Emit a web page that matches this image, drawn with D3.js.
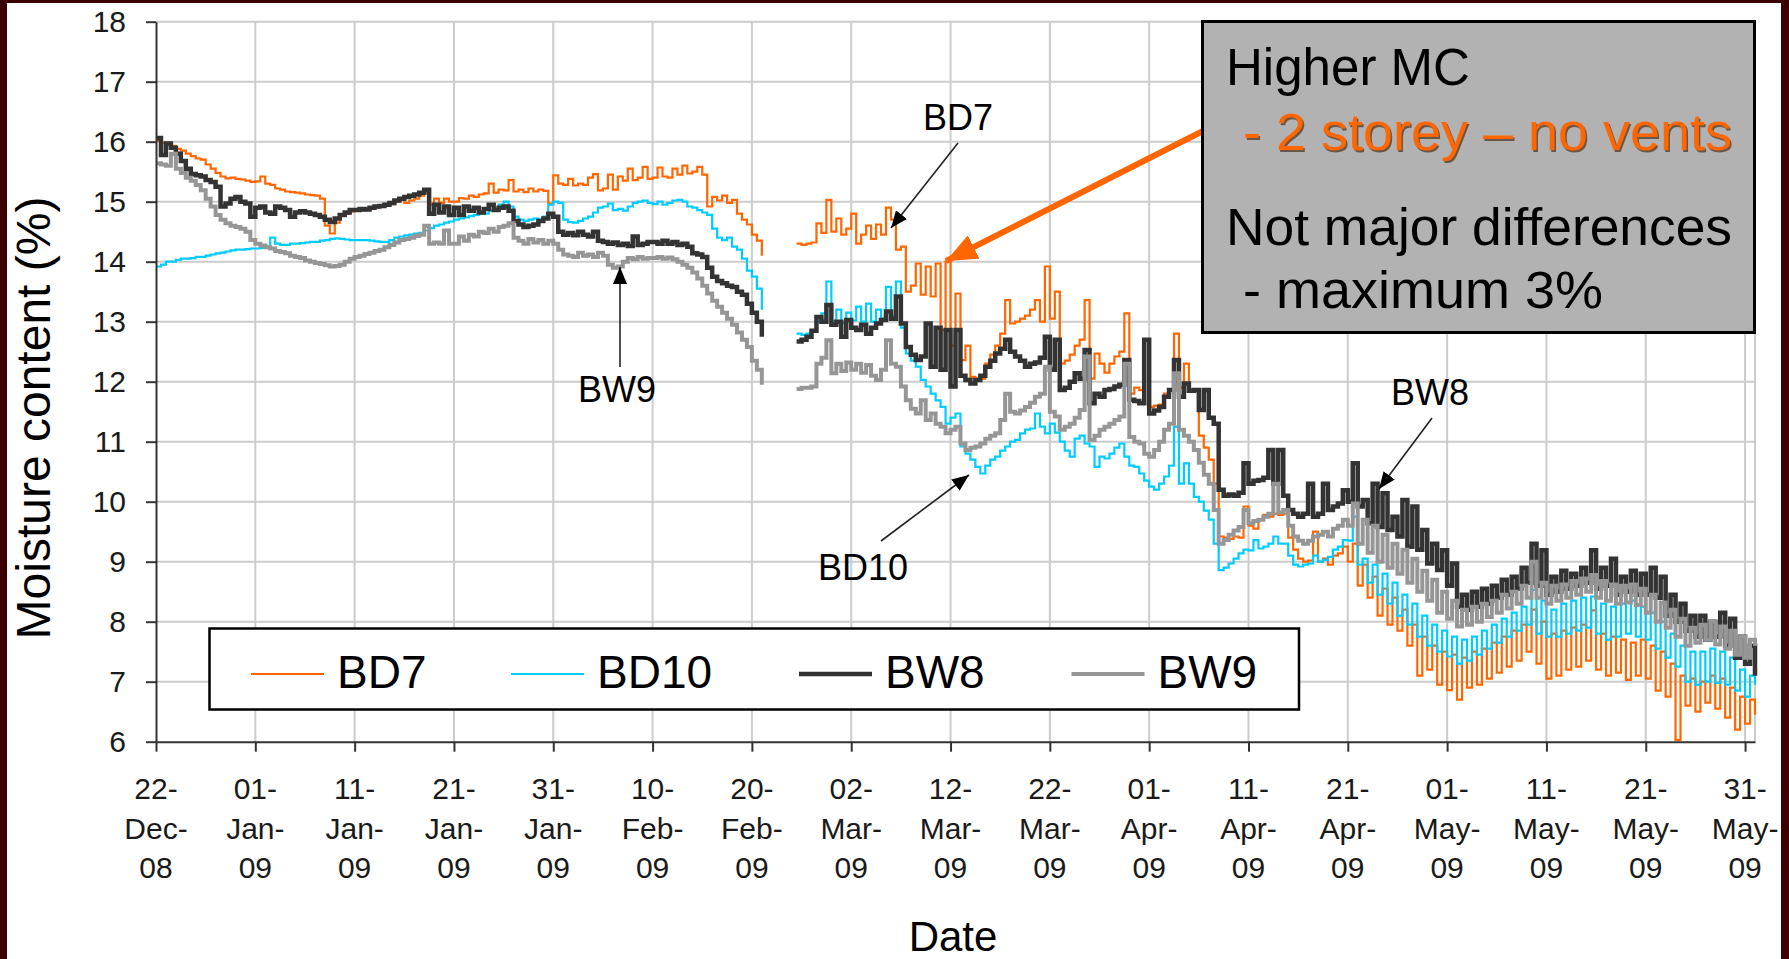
<!DOCTYPE html>
<html>
<head>
<meta charset="utf-8">
<script src="https://cdn.jsdelivr.net/npm/d3@7/dist/d3.min.js"></script>
<style>
body { margin: 0; background: #ffffff; }
svg text { font-family: "Liberation Sans", Arial, sans-serif; }
</style>
</head>
<body>
<script>
// sensors, in legend order
var seriesNames = ["BD7", "BD10", "BW8", "BW9"];
var seriesColors = ["#ff6600", "#00ccff", "#333333", "#969696"];

// moisture content (%) read every 12 hours from 22-Dec-08, null = no logging
var bd7 = [
  16.02,15.98,15.95,15.93,15.88,15.85,15.8,15.76,15.72,15.7,15.62,15.55,15.48,15.42,15.39,15.4,15.38,15.37,15.35,15.33,
  15.34,15.42,15.3,15.28,15.22,15.2,15.17,15.16,15.15,15.14,15.12,15.11,15.1,15.05,14.6,14.47,14.65,14.78,14.8,14.84,
  14.86,14.85,14.87,14.88,14.9,14.92,14.93,14.96,15.0,15.03,14.98,15.02,15.05,15.1,15.15,14.95,15.05,14.98,15.05,15.0,
  15.0,15.06,15.05,15.1,15.08,15.12,15.14,15.3,15.15,15.2,15.19,15.36,15.17,15.2,15.16,15.22,15.17,15.2,15.18,14.97,
  15.44,15.3,15.28,15.38,15.27,15.3,15.28,15.4,15.46,15.19,15.22,15.45,15.2,15.42,15.35,15.55,15.36,15.4,15.58,15.38,
  15.4,15.57,15.42,15.4,15.55,15.45,15.6,15.47,15.5,15.58,15.45,14.92,15.08,15.02,15.1,14.98,15.03,14.8,14.7,14.62,
  14.45,14.35,14.1,null,null,null,null,null,null,14.3,14.28,14.3,14.32,14.64,14.48,15.03,14.5,14.72,14.45,14.55,
  14.8,14.3,14.45,14.6,14.38,14.62,14.45,14.9,14.7,14.2,14.25,13.5,13.6,13.97,13.45,13.92,13.42,13.97,12.86,14.0,
  12.6,13.47,12.36,12.6,12.08,12.05,12.05,12.3,12.45,12.6,12.8,13.36,12.97,13.0,13.05,13.1,13.2,13.36,13.0,13.92,
  13.05,13.5,12.3,12.35,12.45,12.6,12.7,13.36,12.05,12.47,12.3,12.15,12.3,12.42,12.5,13.14,11.8,11.9,11.86,12.7,
  11.58,11.6,11.62,11.8,11.86,12.8,11.9,12.3,11.86,11.85,11.1,10.9,10.7,10.3,9.42,9.4,9.38,9.42,9.4,9.92,
  9.6,9.55,9.7,9.78,9.75,9.8,9.78,9.8,9.4,9.2,9.05,9.0,9.02,9.5,9.0,9.05,8.95,9.1,9.14,9.25,
  9.0,9.3,8.6,8.95,8.4,8.75,8.1,8.55,7.95,8.4,7.85,8.2,7.6,7.95,7.1,7.75,7.2,7.6,6.95,7.5,
  6.86,7.45,6.7,7.4,6.9,7.5,6.95,7.55,7.05,7.65,7.15,7.75,7.25,7.85,7.35,7.95,7.5,8.2,7.3,8.0,
  7.05,7.8,7.1,7.85,7.2,7.9,7.25,7.95,7.35,8.19,7.2,7.8,7.1,7.75,7.15,7.7,7.03,7.65,7.1,7.7,
  7.05,7.6,6.85,7.5,6.75,7.3,6.03,7.1,6.6,7.05,6.5,7.0,6.65,7.1,6.55,7.05,6.4,6.9,6.2,6.75,
  6.3,6.7,6.45
];
var bd10 = [
  13.92,13.95,14.0,14.0,14.03,14.05,14.05,14.06,14.08,14.08,14.1,14.12,14.14,14.15,14.17,14.19,14.2,14.2,14.21,14.22,
  14.22,14.23,14.25,14.4,14.3,14.28,14.28,14.3,14.3,14.31,14.32,14.33,14.33,14.35,14.36,14.38,14.39,14.38,14.37,14.36,
  14.36,14.36,14.36,14.35,14.34,14.33,14.33,14.36,14.4,14.42,14.44,14.45,14.47,14.48,14.52,14.56,14.6,14.62,14.65,14.67,
  14.7,14.72,14.74,14.76,14.78,14.8,14.8,14.85,14.88,14.95,15.0,14.92,14.75,14.7,14.68,14.7,14.72,14.7,14.75,14.95,
  15.0,14.98,14.7,14.66,14.65,14.68,14.72,14.75,14.82,14.9,14.92,14.97,14.86,14.88,14.85,14.92,14.98,15.0,15.02,14.98,
  14.96,15.0,14.95,14.98,15.02,15.03,15.0,14.92,14.9,14.86,14.82,14.78,14.55,14.4,14.36,14.4,14.25,14.2,14.05,13.85,
  13.75,13.55,13.2,null,null,null,null,null,null,12.8,12.78,12.8,12.85,13.0,13.14,13.67,13.0,13.2,12.98,13.15,
  13.02,13.25,13.0,13.3,13.0,13.2,13.05,13.58,13.1,13.67,12.9,12.47,12.35,12.25,12.03,11.92,11.8,11.69,11.58,11.3,
  11.4,11.47,10.92,10.8,10.7,10.58,10.47,10.6,10.7,10.75,10.85,10.92,11.0,11.03,11.14,11.2,11.22,11.47,11.25,11.14,
  11.3,11.15,11.0,10.85,10.75,11.05,11.1,10.97,10.92,10.58,10.75,10.72,10.8,10.9,10.97,10.75,10.6,10.58,10.47,10.35,
  10.25,10.2,10.3,10.42,10.6,11.25,10.3,10.64,10.3,10.08,10.0,9.85,9.7,9.3,8.86,8.9,8.97,9.05,9.14,9.2,
  9.19,9.36,9.22,9.25,9.3,9.42,9.3,9.3,9.1,8.95,8.92,8.95,8.97,9.1,9.0,9.03,9.08,9.2,9.25,9.36,
  9.35,9.75,8.95,9.05,8.65,8.95,8.45,8.8,8.3,8.65,8.1,8.45,7.95,8.3,7.75,8.1,7.6,7.95,7.5,7.85,
  7.42,7.75,7.3,7.7,7.35,7.75,7.45,7.85,7.55,7.95,7.65,8.05,7.75,8.15,7.85,8.25,7.95,8.53,7.8,8.35,
  7.75,8.2,7.75,8.3,7.8,8.35,7.85,8.4,7.9,8.42,7.8,8.3,7.7,8.25,7.75,8.3,7.8,8.35,7.75,8.25,
  7.7,8.15,7.55,8.0,7.4,7.8,7.25,7.6,7.0,7.5,6.95,7.5,7.0,7.55,6.98,7.5,6.95,7.4,6.85,7.2,
  6.75,7.1,6.95
];
var bw8 = [
  16.06,15.78,15.97,15.9,15.8,15.68,15.55,15.46,15.44,15.42,15.36,15.33,15.25,14.92,14.97,15.05,15.08,15.0,14.97,14.75,
  14.9,14.92,14.82,14.8,14.92,14.9,14.86,14.75,14.82,14.84,14.82,14.8,14.78,14.75,14.7,14.66,14.72,14.78,14.82,14.86,
  14.86,14.88,14.87,14.9,14.92,14.93,14.95,14.98,15.02,15.05,15.08,15.1,15.12,15.15,15.2,14.8,14.95,14.82,14.92,14.78,
  14.9,14.78,14.92,14.85,14.9,14.82,14.88,14.95,14.86,14.9,14.92,14.85,14.68,14.62,14.58,14.6,14.62,14.68,14.72,14.8,
  14.75,14.5,14.45,14.48,14.44,14.5,14.45,14.42,14.5,14.35,14.33,14.3,14.32,14.28,14.3,14.26,14.42,14.28,14.3,14.33,
  14.33,14.3,14.35,14.3,14.33,14.28,14.3,14.25,14.14,14.12,14.08,13.9,13.75,13.68,13.64,13.6,13.58,13.5,13.45,13.3,
  13.15,13.0,12.75,null,null,null,null,null,null,12.67,12.7,12.75,12.85,13.08,13.0,13.28,12.95,13.0,12.75,13.03,
  12.9,12.86,12.95,12.8,12.9,12.97,13.03,13.17,13.05,13.42,12.97,12.58,12.45,12.36,12.42,12.97,12.25,12.9,12.2,12.86,
  11.92,12.86,12.1,12.03,11.97,12.03,12.1,12.25,12.35,12.47,12.55,12.7,12.5,12.42,12.35,12.25,12.3,12.32,12.4,12.75,
  12.2,12.7,11.86,11.9,12.0,12.14,12.05,12.53,11.64,11.8,11.75,11.86,11.88,11.92,11.95,12.36,11.7,11.68,11.64,12.7,
  11.47,11.52,11.58,11.75,11.86,12.36,11.75,11.97,11.85,11.86,11.53,11.86,11.4,11.3,10.2,10.1,10.12,10.1,10.15,10.64,
  10.3,10.35,10.36,10.4,10.86,10.3,10.86,10.1,9.86,9.8,9.75,9.8,10.3,9.75,9.8,10.3,9.86,9.92,9.97,10.19,
  10.0,10.64,9.92,10.03,9.64,10.3,9.58,10.14,9.53,9.75,9.42,10.03,9.25,9.92,9.2,9.53,8.97,9.3,8.86,9.19,
  8.6,8.97,8.25,8.45,8.2,8.5,8.25,8.55,8.3,8.6,8.4,8.7,8.45,8.75,8.55,8.9,8.65,9.3,8.6,9.19,
  8.45,8.75,8.5,8.85,8.55,8.8,8.6,8.9,8.65,9.19,8.55,8.9,8.6,9.05,8.45,8.75,8.5,8.85,8.45,8.8,
  8.45,8.9,8.4,8.75,8.1,8.45,8.0,8.3,7.85,8.1,7.75,8.1,7.7,8.0,7.75,8.15,7.6,8.05,7.4,7.75,
  7.3,7.6,7.1
];
var bw9 = [
  15.64,15.62,15.6,15.8,15.55,15.48,15.4,15.35,15.28,15.19,15.05,14.92,14.78,14.7,14.64,14.6,14.58,14.55,14.5,14.36,
  14.3,14.27,14.24,14.22,14.18,14.16,14.14,14.1,14.08,14.06,14.02,14.0,13.98,13.96,13.94,13.92,13.93,13.95,14.0,14.05,
  14.08,14.1,14.13,14.15,14.18,14.2,14.24,14.28,14.32,14.36,14.38,14.4,14.43,14.45,14.6,14.3,14.32,14.3,14.52,14.3,
  14.3,14.42,14.35,14.45,14.42,14.5,14.48,14.55,14.5,14.58,14.6,14.64,14.4,14.35,14.3,14.38,14.32,14.36,14.3,14.35,
  14.3,14.2,14.12,14.1,14.08,14.15,14.1,14.12,14.08,14.15,14.1,13.95,13.9,13.92,14.0,14.06,14.04,14.08,14.05,14.06,
  14.06,14.08,14.05,14.07,14.04,14.0,13.95,13.9,13.82,13.72,13.6,13.47,13.35,13.25,13.15,13.05,12.95,12.82,12.7,12.58,
  12.35,12.2,11.95,null,null,null,null,null,null,11.88,11.9,11.9,11.92,12.3,12.4,12.69,12.14,12.3,12.18,12.32,
  12.2,12.3,12.15,12.28,12.1,12.03,12.2,12.69,12.3,12.25,11.92,11.69,11.55,11.47,11.69,11.36,11.47,11.3,11.25,11.14,
  11.2,11.25,10.97,10.86,10.9,10.92,10.97,11.05,11.1,11.14,11.36,11.8,11.5,11.47,11.52,11.58,11.65,11.75,11.8,12.25,
  11.5,11.42,11.2,11.25,11.3,11.4,11.53,12.42,11.03,11.1,11.2,11.25,11.3,11.36,11.42,12.3,11.08,11.0,10.97,10.8,
  10.75,10.86,11.0,11.2,11.3,12.14,11.2,11.1,11.0,10.86,10.65,10.45,10.3,9.86,9.3,9.36,9.45,9.52,9.58,9.86,
  9.64,9.68,9.7,9.75,9.8,10.3,9.82,9.86,9.6,9.42,9.35,9.3,9.35,9.42,9.45,9.5,9.42,9.55,9.6,9.7,
  9.6,9.97,9.3,9.7,9.15,9.6,9.0,9.45,8.9,9.3,8.8,9.2,8.65,9.05,8.5,8.85,8.35,8.7,8.15,8.5,
  8.05,8.35,7.92,8.2,7.95,8.25,8.0,8.3,8.08,8.35,8.15,8.45,8.22,8.5,8.3,8.6,8.4,9.0,8.4,8.65,
  8.3,8.6,8.35,8.62,8.4,8.68,8.45,8.72,8.5,8.78,8.4,8.68,8.35,8.62,8.3,8.6,8.32,8.62,8.28,8.55,
  8.15,8.45,8.0,8.32,7.9,8.2,7.75,8.05,7.6,7.9,7.65,7.95,7.7,8.0,7.62,7.92,7.55,7.85,7.45,7.75,
  7.4,7.7,7.6
];

// axis ticks
var yTicks = [6, 7, 8, 9, 10, 11, 12, 13, 14, 15, 16, 17, 18];
var xTickLabels = ["22-Dec-08", "01-Jan-09", "11-Jan-09", "21-Jan-09", "31-Jan-09", "10-Feb-09", "20-Feb-09",
  "02-Mar-09", "12-Mar-09", "22-Mar-09", "01-Apr-09", "11-Apr-09", "21-Apr-09", "01-May-09", "11-May-09",
  "21-May-09", "31-May-09"];

// callout texts
var noteLines = ["Higher MC", "- 2 storey \u2013 no vents", "Not major differences", "- maximum 3%"];
var arrowLabels = ["BD7", "BW9", "BD10", "BW8"];

window.onload = function(){
    var w = 1789, h = 959;
    var svg = d3.select("body")
        .append("svg")
        .attr("width", w)
        .attr("height", h);

    svg.append("rect").attr("width", w).attr("height", h).style("fill", "#ffffff");

    var parseDay = d3.utcParse("%d-%b-%y");
    var start = parseDay(xTickLabels[0]);
    var halfDay = 12 * 3600 * 1000;

    // plot area
    var left = 156, right = 1755, top = 21.7, bottom = 741.7;
    var x = d3.scaleUtc()
        .domain([start, new Date(Date.UTC(2009, 5, 1))])
        .range([left, right]);
    var y = d3.scaleLinear()
        .domain([6, 18])
        .range([bottom, top]);

    var tickDates = xTickLabels.map(function(s){ return parseDay(s); });

    // gridlines
    var grid = svg.append("g").attr("class", "grid");
    grid.selectAll(".hgrid")
        .data(yTicks.slice(1))
        .enter().append("line")
        .attr("x1", left).attr("x2", right)
        .attr("y1", function(d){ return y(d); })
        .attr("y2", function(d){ return y(d); })
        .style("stroke", "#cccccc").style("stroke-width", 2);
    grid.selectAll(".vgrid")
        .data(tickDates.slice(1))
        .enter().append("line")
        .attr("x1", function(d){ return x(d); })
        .attr("x2", function(d){ return x(d); })
        .attr("y1", top).attr("y2", bottom)
        .style("stroke", "#cccccc").style("stroke-width", 2);
    grid.append("line")
        .attr("x1", right).attr("x2", right).attr("y1", top).attr("y2", bottom)
        .style("stroke", "#cccccc").style("stroke-width", 2);

    // series lines, drawn in legend order (stepped like the logger readings)
    var allSeries = [bd7, bd10, bw8, bw9];
    var widths = [2.2, 2.2, 4.5, 4];
    var line = d3.line()
        .defined(function(d){ return d != null; })
        .x(function(d, i){ return x(new Date(start.getTime() + i * halfDay)); })
        .y(function(d){ return y(d); })
        .curve(d3.curveStepAfter);

    svg.append("g").selectAll("path")
        .data(allSeries)
        .enter().append("path")
        .attr("d", function(d){ return line(d); })
        .style("fill", "none")
        .style("stroke", function(d, i){ return seriesColors[i]; })
        .style("stroke-width", function(d, i){ return widths[i]; });

    // y axis
    var yAxis = svg.append("g")
        .attr("transform", "translate(" + left + ",0)")
        .call(d3.axisLeft(y).tickValues(yTicks).tickSize(10).tickSizeOuter(0).tickPadding(20));
    yAxis.select(".domain").style("stroke", "#333333").style("stroke-width", 2);
    yAxis.selectAll(".tick line").style("stroke", "#333333").style("stroke-width", 2);
    yAxis.selectAll(".tick text")
        .style("font-size", "30px")
        .style("fill", "#1a1a1a")
        .style("font-family", "'Liberation Sans', Arial, sans-serif");

    // x axis with three line labels
    var xAxis = svg.append("g")
        .attr("transform", "translate(0," + bottom + ")")
        .call(d3.axisBottom(x).tickValues(tickDates).tickSize(10).tickSizeOuter(0).tickFormat(""));
    xAxis.select(".domain").style("stroke", "#333333").style("stroke-width", 2);
    xAxis.selectAll(".tick line").style("stroke", "#333333").style("stroke-width", 2);

    var xLabels = svg.append("g").selectAll("text")
        .data(xTickLabels)
        .enter().append("text")
        .attr("text-anchor", "middle")
        .style("font-size", "30px")
        .style("fill", "#1a1a1a");
    [798.6, 838.5, 877.7].forEach(function(lineY, k){
        xLabels.append("tspan")
            .attr("x", function(d, i){ return x(tickDates[i]); })
            .attr("y", lineY)
            .text(function(d){
                var s = d.split("-");
                return k < 2 ? s[k] + "-" : s[k];
            });
    });

    // axis titles
    svg.append("text")
        .attr("x", 953).attr("y", 951)
        .attr("text-anchor", "middle")
        .style("font-size", "42px")
        .style("fill", "#000000")
        .text("Date");
    svg.append("text")
        .attr("transform", "translate(50,418) rotate(-90)")
        .attr("text-anchor", "middle")
        .style("font-size", "48px")
        .style("fill", "#000000")
        .text("Moisture content (%)");

    // legend
    var legend = svg.append("g");
    legend.append("rect")
        .attr("x", 209.5).attr("y", 628.5)
        .attr("width", 1089.5).attr("height", 81)
        .style("fill", "#ffffff").style("stroke", "#000000").style("stroke-width", 2.5);
    var legX = [251, 511, 799, 1071.5];
    var items = legend.selectAll(".item")
        .data(seriesNames)
        .enter().append("g");
    items.append("line")
        .attr("x1", function(d, i){ return legX[i]; })
        .attr("x2", function(d, i){ return legX[i] + 73; })
        .attr("y1", 674).attr("y2", 674)
        .style("stroke", function(d, i){ return seriesColors[i]; })
        .style("stroke-width", function(d, i){ return widths[i]; });
    items.append("text")
        .attr("x", function(d, i){ return legX[i] + 86; })
        .attr("y", 688)
        .style("font-size", "46px")
        .style("fill", "#000000")
        .text(function(d){ return d; });

    // arrow heads
    var defs = svg.append("defs");
    defs.append("marker")
        .attr("id", "blackHead")
        .attr("markerUnits", "userSpaceOnUse")
        .attr("markerWidth", 18).attr("markerHeight", 14)
        .attr("refX", 17).attr("refY", 7)
        .attr("orient", "auto")
        .append("path").attr("d", "M0,0 L17,7 L0,14 Z").style("fill", "#000000");
    defs.append("marker")
        .attr("id", "orangeHead")
        .attr("markerUnits", "userSpaceOnUse")
        .attr("markerWidth", 32).attr("markerHeight", 26)
        .attr("refX", 31).attr("refY", 13)
        .attr("orient", "auto")
        .append("path").attr("d", "M0,0 L31,13 L0,26 Z").style("fill", "#ff6600");

    // series callouts: label position and arrow from/to
    var callouts = [
        {tx: 958, ty: 130, x1: 958, y1: 143, x2: 891, y2: 228},
        {tx: 617, ty: 402, x1: 620, y1: 367, x2: 620, y2: 267},
        {tx: 863, ty: 580, x1: 881, y1: 541, x2: 969, y2: 475},
        {tx: 1430, ty: 405, x1: 1432, y1: 418, x2: 1379, y2: 489}
    ];
    var notes = svg.append("g");
    notes.selectAll("line")
        .data(callouts)
        .enter().append("line")
        .attr("x1", function(d){ return d.x1; }).attr("y1", function(d){ return d.y1; })
        .attr("x2", function(d){ return d.x2; }).attr("y2", function(d){ return d.y2; })
        .style("stroke", "#222222").style("stroke-width", 1.6)
        .attr("marker-end", "url(#blackHead)");
    notes.selectAll("text")
        .data(callouts)
        .enter().append("text")
        .attr("x", function(d){ return d.tx; })
        .attr("y", function(d){ return d.ty; })
        .attr("text-anchor", "middle")
        .style("font-size", "36px")
        .style("fill", "#000000")
        .text(function(d, i){ return arrowLabels[i]; });

    // orange pointer from the text box
    svg.append("line")
        .attr("x1", 1203).attr("y1", 131)
        .attr("x2", 946).attr("y2", 261)
        .style("stroke", "#ff6600").style("stroke-width", 6)
        .attr("marker-end", "url(#orangeHead)");

    // grey text box
    svg.append("rect")
        .attr("x", 1202.5).attr("y", 21.5)
        .attr("width", 552).attr("height", 311)
        .style("fill", "#b2b2b2").style("stroke", "#000000").style("stroke-width", 3);
    var noteX = [1226, 1243, 1226, 1243];
    var noteY = [85, 150, 245, 308];
    var noteW = [244, 489, 506, 360];
    var noteFill = ["#000000", "#ff6600", "#000000", "#000000"];
    var box = svg.append("g")
        .style("font-family", "'DejaVu Sans Condensed', 'DejaVu Sans', sans-serif")
        .style("font-stretch", "condensed");
    // shadow under the orange line
    box.append("text")
        .attr("x", noteX[1] + 1.5).attr("y", noteY[1] + 1.5)
        .attr("textLength", noteW[1]).attr("lengthAdjust", "spacingAndGlyphs")
        .style("font-size", "51px")
        .style("fill", "#3a1a00").style("opacity", 0.6)
        .text(noteLines[1]);
    box.selectAll(".note")
        .data(noteLines)
        .enter().append("text")
        .attr("class", "note")
        .attr("x", function(d, i){ return noteX[i]; })
        .attr("y", function(d, i){ return noteY[i]; })
        .attr("textLength", function(d, i){ return noteW[i]; })
        .attr("lengthAdjust", "spacingAndGlyphs")
        .style("font-size", "51px")
        .style("fill", function(d, i){ return noteFill[i]; })
        .text(function(d){ return d; });

    // slide frame
    var frame = svg.append("g").style("fill", "#3d0000");
    frame.append("rect").attr("x", 0).attr("y", 0).attr("width", 7).attr("height", h);
    frame.append("rect").attr("x", 0).attr("y", 0).attr("width", w).attr("height", 3);
    frame.append("rect").attr("x", 1781).attr("y", 0).attr("width", 8).attr("height", h);
};
</script>
</body>
</html>
